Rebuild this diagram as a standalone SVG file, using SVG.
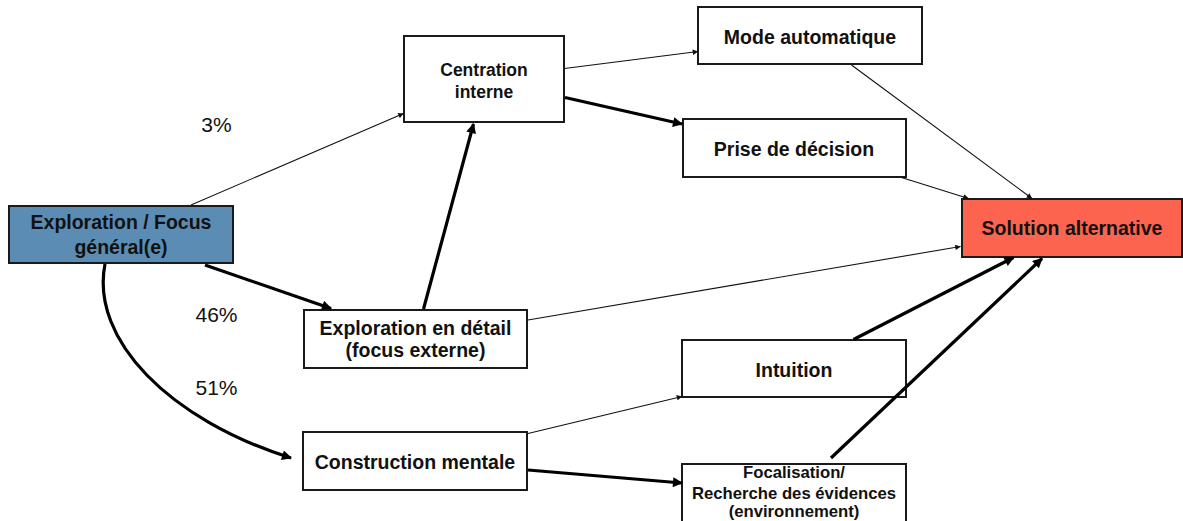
<svg xmlns="http://www.w3.org/2000/svg" width="1183" height="521" viewBox="0 0 1183 521">
<style>
.box{fill:#ffffff;stroke:#1a1a1a;stroke-width:2}
.t{font-family:"Liberation Sans",Arial,sans-serif;font-weight:bold;font-size:19.5px;fill:#111;text-anchor:middle}
.ts{font-size:17.5px}
.tf{font-size:16.7px}
.pct{font-family:"Liberation Sans",Arial,sans-serif;font-size:21px;fill:#111;text-anchor:middle}
.thin{fill:none;stroke:#111;stroke-width:1.1}
.thick{fill:none;stroke:#000;stroke-width:3.2}
</style>
<defs>
<marker id="ah" viewBox="0 0 10 10" refX="9.5" refY="5" markerWidth="7" markerHeight="5.5" orient="auto" markerUnits="userSpaceOnUse"><path d="M0,0 L10,5 L0,10 z" fill="#111"/></marker>
<marker id="ahb" viewBox="0 0 10 10" refX="9" refY="5" markerWidth="13" markerHeight="10" orient="auto" markerUnits="userSpaceOnUse"><path d="M0,0 L10,5 L0,10 z" fill="#000"/></marker>
</defs>
<rect width="1183" height="521" fill="#ffffff"/>
<g id="n-exploration-focus">
<rect x="9" y="206" width="224" height="57" fill="#5b8db4" stroke="#1a1a1a" stroke-width="2"/>
<text class="t" x="121" y="229">Exploration / Focus</text>
<text class="t" x="121" y="254">général(e)</text>
</g>
<g id="n-centration">
<rect class="box" x="404" y="36" width="160" height="86"/>
<text class="t ts" x="484" y="76">Centration</text>
<text class="t ts" x="484" y="98">interne</text>
</g>
<g id="n-mode">
<rect class="box" x="698" y="7" width="224" height="57"/>
<text class="t" x="810" y="44">Mode automatique</text>
</g>
<g id="n-prise">
<rect class="box" x="683" y="119" width="223" height="58"/>
<text class="t" x="794" y="156">Prise de décision</text>
</g>
<g id="n-solution">
<rect x="962" y="199" width="220" height="58" fill="#fd6450" stroke="#1a1a1a" stroke-width="2"/>
<text class="t" x="1072" y="235">Solution alternative</text>
</g>
<g id="n-exploration-detail">
<rect class="box" x="304" y="310" width="223" height="58"/>
<text class="t" x="415.5" y="335">Exploration en détail</text>
<text class="t" x="415.5" y="357">(focus externe)</text>
</g>
<g id="n-intuition">
<rect class="box" x="682" y="340" width="224" height="57"/>
<text class="t" x="794" y="377">Intuition</text>
</g>
<g id="n-construction">
<rect class="box" x="303" y="432" width="224" height="58"/>
<text class="t" x="415" y="469">Construction mentale</text>
</g>
<g id="n-focalisation">
<rect class="box" x="682" y="464" width="224" height="70"/>
<text class="t tf" x="794" y="478">Focalisation/</text>
<text class="t tf" x="794" y="498.5">Recherche des évidences</text>
<text class="t tf" x="794" y="517">(environnement)</text>
</g>
<g id="labels">
<text class="pct" x="216.5" y="132">3%</text>
<text class="pct" x="216.5" y="321.5">46%</text>
<text class="pct" x="216.5" y="395">51%</text>
</g>
<g id="connectors">
<line class="thin" x1="191" y1="205" x2="403.5" y2="113.5" marker-end="url(#ah)"/>
<line class="thick" x1="205" y1="265" x2="331" y2="308.5" marker-end="url(#ahb)"/>
<path class="thick" d="M105,264 C90,340 170,420 291,458" marker-end="url(#ahb)"/>
<line class="thick" x1="423.5" y1="309" x2="473.5" y2="124" marker-end="url(#ahb)"/>
<line class="thin" x1="528" y1="320" x2="960.5" y2="246.5" marker-end="url(#ah)"/>
<line class="thin" x1="564.5" y1="68.5" x2="698" y2="51.5" marker-end="url(#ah)"/>
<line class="thick" x1="565" y1="97.5" x2="682" y2="124" marker-end="url(#ahb)"/>
<line class="thin" x1="851.5" y1="65" x2="1032" y2="198.5" marker-end="url(#ah)"/>
<line class="thin" x1="901.5" y1="177.5" x2="968.5" y2="198.5" marker-end="url(#ah)"/>
<line class="thick" x1="853.5" y1="339.5" x2="1013.5" y2="257.5" marker-end="url(#ahb)"/>
<line class="thick" x1="831" y1="458" x2="1042" y2="258.5" marker-end="url(#ahb)"/>
<line class="thin" x1="528" y1="433.5" x2="682" y2="396.5" marker-end="url(#ah)"/>
<line class="thick" x1="528" y1="470" x2="682" y2="483" marker-end="url(#ahb)"/>
</g>
</svg>
